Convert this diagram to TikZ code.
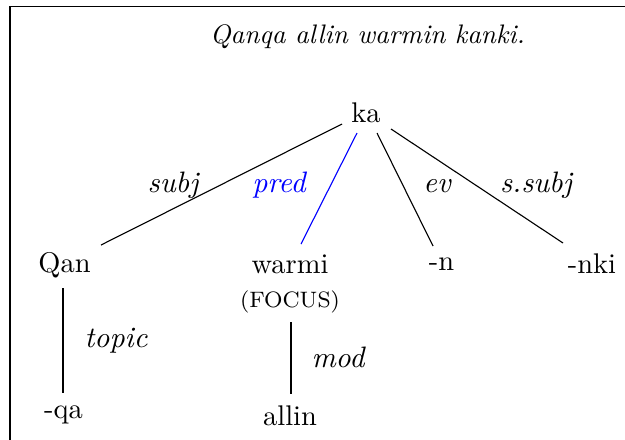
\documentclass[tikz,border=0pt]{standalone}
\begin{document}
\begin{tikzpicture}[x=0.3584pt,y=-0.3584pt,
  word/.style={anchor=base,inner sep=0pt,font=\fontsize{10.2}{12}\selectfont},
  rel/.style={anchor=base,inner sep=0pt,font=\fontsize{10.6}{12}\selectfont\itshape},
  titletext/.style={anchor=base,inner sep=0pt,font=\fontsize{9.6}{11}\selectfont\itshape},
  edge/.style={line width=0.4pt},
  prededge/.style={line width=0.4pt,blue}]
\useasboundingbox (0,0) rectangle (625,439);
\draw[line width=0.5pt] (10,445) -- (10,6.5) -- (630,6.5);
\node[titletext] (title) at (367.5,43) {Qanqa allin warmin kanki.};
\node[word] (ka) at (366,122) {ka};
\node[word] (Qan) at (64.5,272) {Qan};
\node[word] (warmi) at (290,273) {warmi};
\node[anchor=base,inner sep=0pt,font=\footnotesize] (focus) at (290,307) {(FOCUS)};
\node[word] (n) at (441.5,270) {-n};
\node[word] (nki) at (592,273) {-nki};
\node[word] (qa) at (63.5,418) {-qa};
\node[word] (allin) at (290,425) {allin};
\node[rel] (subj) at (173,192) {subj};
\node[rel,text=blue] (pred) at (279,192) {pred};
\node[rel] (ev) at (437,192) {ev};
\node[rel] (ssubj) at (536,192) {s.subj};
\node[rel] (topic) at (116,347) {topic};
\node[rel] (mod) at (338,367) {mod};
\draw[edge] ([shift={(-24,2)}]ka.base) -- ([shift={(36.5,-27)}]Qan.base);
\draw[prededge] ([shift={(-9,11)}]ka.base) -- ([shift={(11,-29)}]warmi.base);
\draw[edge] ([shift={(11,11)}]ka.base) -- ([shift={(-8.5,-24)}]n.base);
\draw[edge] ([shift={(25,7)}]ka.base) -- ([shift={(-29,-30)}]nki.base);
\draw[edge] ([shift={(-1.5,16)}]Qan.base) -- ([shift={(-0.5,-25)}]qa.base);
\draw[edge] ([shift={(1,15)}]focus.base) -- ([shift={(1,-31)}]allin.base);
\end{tikzpicture}
\end{document}
